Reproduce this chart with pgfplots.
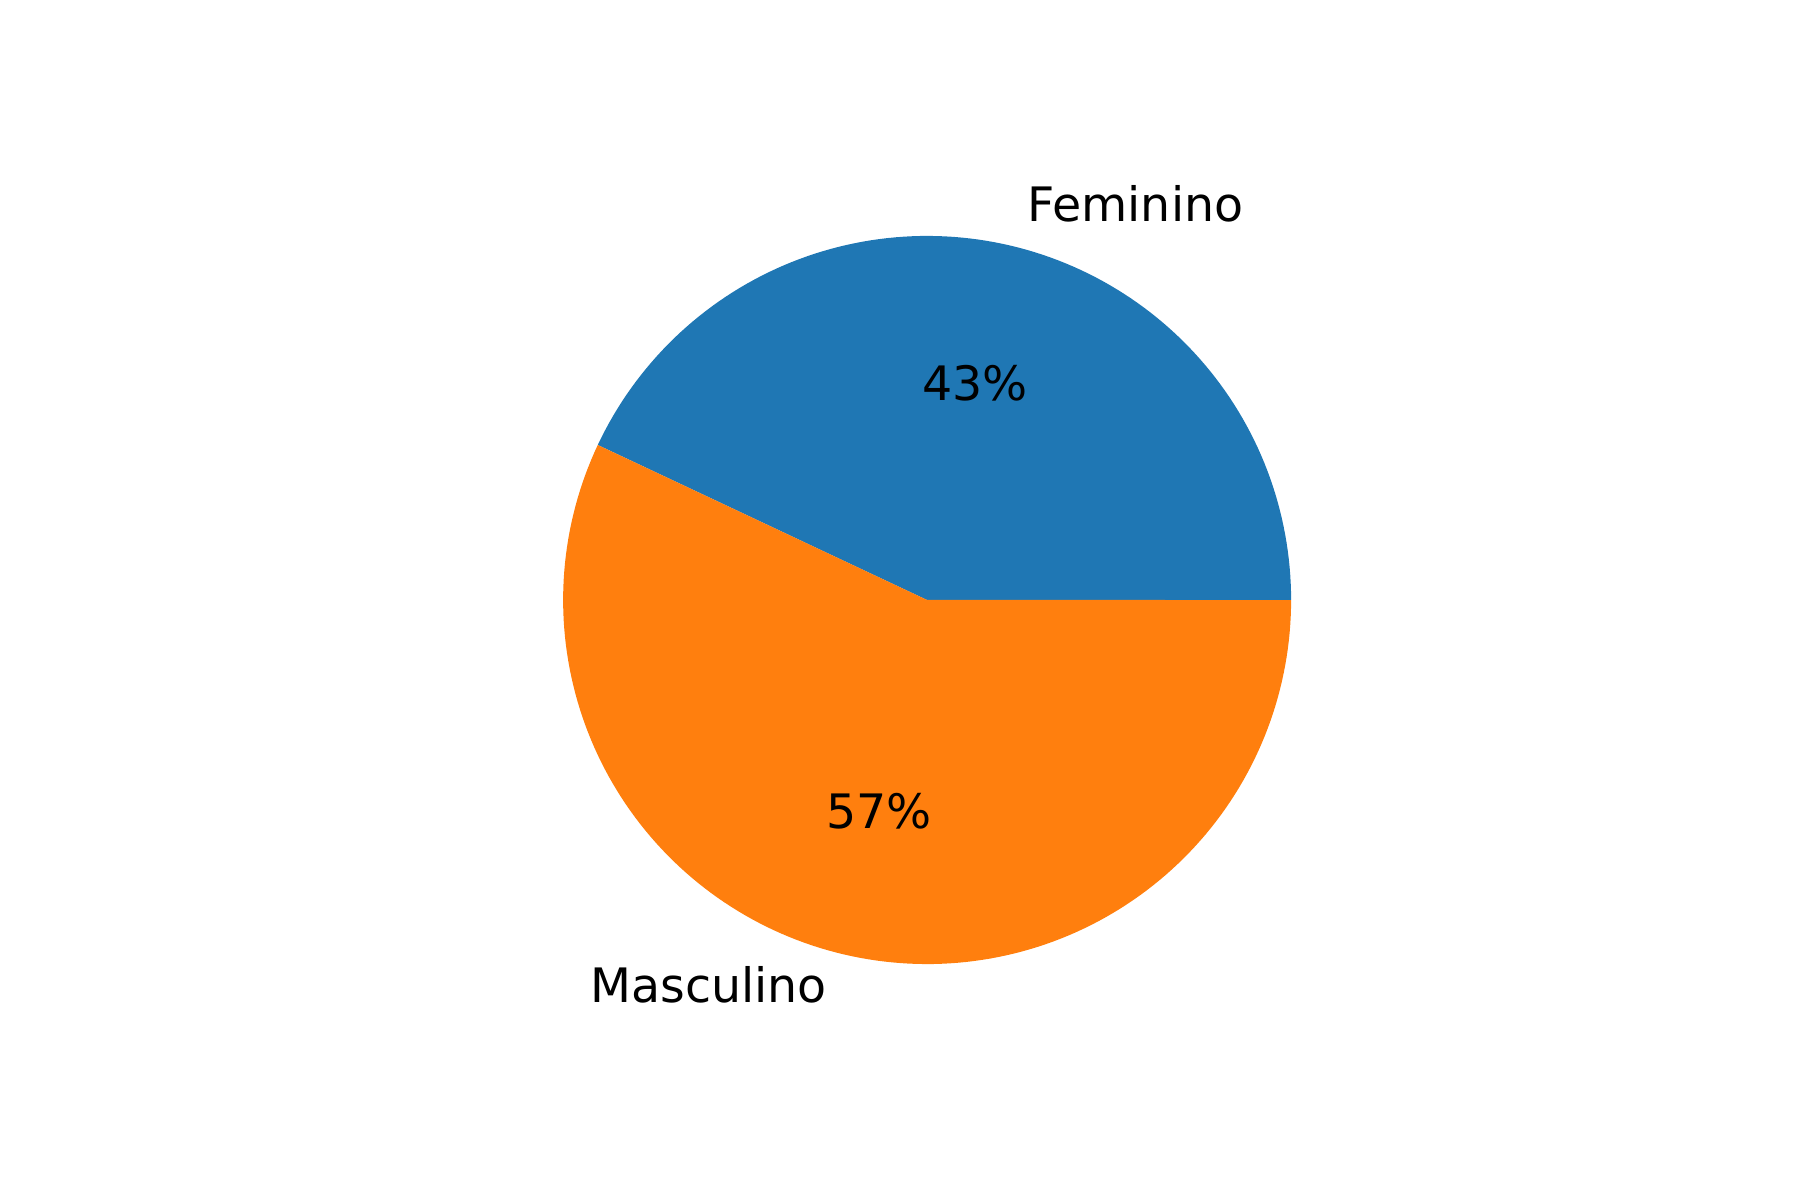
\documentclass[border=0pt]{standalone}
\usepackage{pgfplots}
\pgfplotsset{compat=1.18}
\usepackage{fontspec}
\setmainfont{DejaVu Sans}
\definecolor{c1}{HTML}{1F77B4}
\definecolor{c2}{HTML}{FF7F0E}
\begin{document}
\begin{tikzpicture}
\pgfmathsetmacro{\fem}{43}
\pgfmathsetmacro{\mas}{57}
\pgfmathsetmacro{\a}{360*\fem/(\fem+\mas)}
\begin{axis}[width=18cm,height=12cm,scale only axis,axis lines=none,ticks=none,clip=false,
  xmin=-2.547,xmax=2.398,ymin=-1.648,ymax=1.648]
\draw[draw=none] (rel axis cs:0,0) rectangle (rel axis cs:1,1);
\addplot[fill=c1,draw=none,domain=0:\a,samples=120] ({cos(x)},{sin(x)}) -- (axis cs:0,0) -- cycle;
\addplot[fill=c2,draw=none,domain=\a:360,samples=160] ({cos(x)},{sin(x)}) -- (axis cs:0,0) -- cycle;
\node[anchor=base west,font=\fontsize{13.5}{16}\selectfont] at (axis cs:0.242,1.04) {Feminino};
\node[anchor=base east,font=\fontsize{13.5}{16}\selectfont] at (axis cs:-0.242,-1.105) {Masculino};
\node[font=\fontsize{13.5}{16}\selectfont] at (axis cs:0.132,0.596) {43\%};
\node[font=\fontsize{13.5}{16}\selectfont] at (axis cs:-0.132,-0.58) {57\%};
\end{axis}
\end{tikzpicture}
\end{document}
